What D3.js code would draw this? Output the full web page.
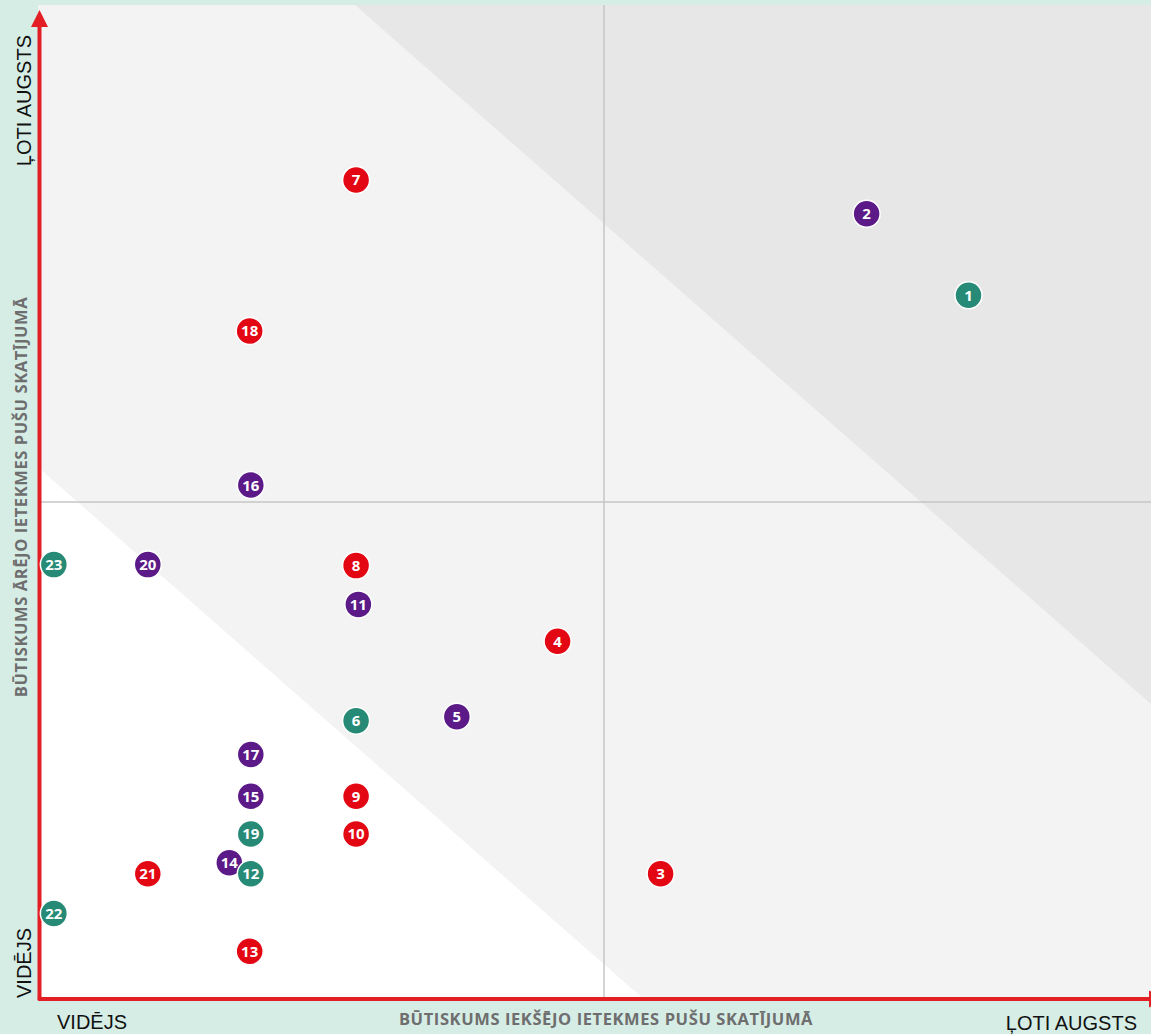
<!DOCTYPE html>
<html><head><meta charset="utf-8">
<script src="https://cdn.jsdelivr.net/npm/d3@7"></script>
<style>body{margin:0;background:#d6ede6;}svg{display:block;}</style>
</head><body>
<script>
const ids    = [1,2,3,4,5,6,7,8,9,10,11,12,13,14,15,16,17,18,19,20,21,22,23];
const xVals  = [8.22,7.32,5.50,4.59,3.70,2.81,2.81,2.81,2.81,2.81,2.83,1.88,1.87,1.69,1.88,1.88,1.88,1.87,1.88,0.97,0.97,0.14,0.14];
const yVals  = [7.08,7.90,1.26,3.60,2.84,2.80,8.24,4.36,2.04,1.66,3.97,1.26,0.48,1.37,2.04,5.17,2.46,6.72,1.66,4.37,1.26,0.86,4.37];
const groups = ["teal","purple","red","red","purple","teal","red","red","red","red","purple","teal","red","purple","purple","purple","purple","red","teal","purple","red","teal","teal"];
const tickLabels = ["VIDĒJS","ĻOTI AUGSTS"];
const xTitle = "BŪTISKUMS IEKŠĒJO IETEKMES PUŠU SKATĪJUMĀ";
const yTitle = "BŪTISKUMS ĀRĒJO IETEKMES PUŠU SKATĪJUMĀ";
const bandLow = 5.35, bandHigh = 12.8, midVal = 5;

const W = 1151, H = 1034;
const x = d3.scaleLinear().domain([0,10]).range([38,1170]);
const y = d3.scaleLinear().domain([0,10]).range([999,5]);
const color = d3.scaleOrdinal().domain(["red","purple","teal"]).range(["#e30613","#5b1a87","#268a76"]);

const svg = d3.select("body").append("svg").attr("width",W).attr("height",H);
svg.append("rect").attr("width",W).attr("height",H).attr("fill","#d6ede6");

const plotL = 38, plotR = 1151, plotT = 5, plotB = 999;
svg.append("clipPath").attr("id","pc").append("rect")
  .attr("x",plotL).attr("y",plotT).attr("width",plotR-plotL).attr("height",plotB-plotT);
const g = svg.append("g").attr("clip-path","url(#pc)");
g.append("rect").attr("x",plotL).attr("y",plotT).attr("width",plotR-plotL).attr("height",plotB-plotT).attr("fill","#f3f3f3");
const line = d3.line().x(d=>x(d[0])).y(d=>y(d[1]));
g.append("path").attr("d", line([[bandHigh-10,10],[10,10],[10,bandHigh-10]])+"Z").attr("fill","#e7e7e7");
g.append("path").attr("d", line([[0,0],[bandLow,0],[0,bandLow]])+"Z").attr("fill","#ffffff");
g.append("line").attr("x1",x(midVal)).attr("x2",x(midVal)).attr("y1",plotT).attr("y2",plotB).attr("stroke","#c6c6c6").attr("stroke-width",1.5);
g.append("line").attr("x1",plotL).attr("x2",plotR).attr("y1",y(midVal)).attr("y2",y(midVal)).attr("stroke","#c6c6c6").attr("stroke-width",1.5);

// axes
const red = "#e31e24";
const ax0 = x(0)+1.5, ay0 = y(0);
svg.append("line").attr("x1",ax0).attr("y1",ay0).attr("x2",ax0).attr("y2",24).attr("stroke",red).attr("stroke-width",4).attr("stroke-linecap","round");
svg.append("path").attr("d",`M${ax0},10 L${ax0-8.5},27 L${ax0+8.5},27 Z`).attr("fill",red);
svg.append("line").attr("x1",ax0).attr("y1",ay0).attr("x2",1152).attr("y2",ay0).attr("stroke",red).attr("stroke-width",4).attr("stroke-linecap","round");
svg.append("path").attr("d",`M1149,${ay0-8.5} L1166,${ay0} L1149,${ay0+8.5} Z`).attr("fill",red);

// tick labels
const tf = "'Liberation Sans', Arial, sans-serif";
svg.append("text").attr("x",57).attr("y",1029).attr("font-family",tf).attr("font-size",20).attr("fill","#111").text(tickLabels[0]);
svg.append("text").attr("x",1137).attr("y",1030).attr("text-anchor","end").attr("font-family",tf).attr("font-size",20).attr("fill","#111").text(tickLabels[1]);
svg.append("text").attr("transform","translate(31,998) rotate(-90)").attr("font-family",tf).attr("font-size",20).attr("fill","#111").text(tickLabels[0]);
svg.append("text").attr("transform","translate(31,35) rotate(-90)").attr("text-anchor","end").attr("font-family",tf).attr("font-size",20).attr("fill","#111").text(tickLabels[1]);

// axis titles
const titleFont = "'Open Sans', sans-serif";
svg.append("text").attr("x",606).attr("y",1025).attr("text-anchor","middle").attr("font-family",titleFont).attr("font-weight",700).attr("font-size",16.5).attr("letter-spacing",0.6).attr("fill","#6e6e6e").text(xTitle);
svg.append("text").attr("transform","translate(27,497) rotate(-90)").attr("text-anchor","middle").attr("font-family",titleFont).attr("font-weight",700).attr("font-size",16.5).attr("letter-spacing",0.6).attr("fill","#6e6e6e").text(yTitle);

// points (drawn from last to first)
const pts = ids.map((id,i)=>({id, x:xVals[i], y:yVals[i], g:groups[i]})).reverse();
const pg = svg.append("g").selectAll("g").data(pts).join("g").attr("transform",d=>`translate(${x(d.x)},${y(d.y)})`);
pg.append("circle").attr("r",13.5).attr("fill",d=>color(d.g)).attr("stroke","#fff").attr("stroke-width",1.5);
pg.append("text").attr("text-anchor","middle").attr("dy","0.36em").attr("font-family",titleFont).attr("font-weight",700).attr("font-size",15).attr("fill","#fff").text(d=>d.id);
</script>
</body></html>
